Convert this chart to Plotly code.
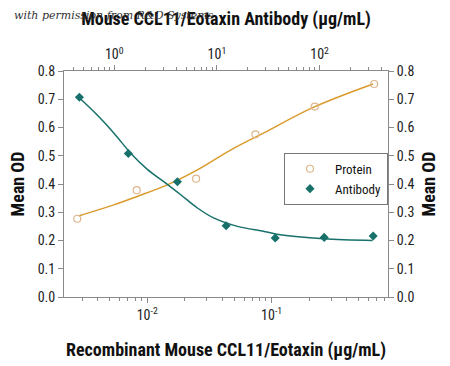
import plotly.graph_objects as go

# Protein (bottom axis, Recombinant Mouse CCL11/Eotaxin, µg/mL)
protein_conc = [0.00274, 0.00823, 0.0247, 0.0741, 0.222, 0.667]
protein_od = [0.277, 0.378, 0.419, 0.576, 0.674, 0.754]
# Protein fit curve
protein_fit_conc = [0.00281, 0.00538, 0.0083, 0.01449, 0.0253, 0.0471, 0.0873, 0.218, 0.653]
protein_fit_od = [0.287, 0.326, 0.356, 0.397, 0.450, 0.521, 0.582, 0.672, 0.754]

# Antibody (top axis, Mouse CCL11/Eotaxin Antibody, µg/mL)
antibody_conc = [0.457, 1.37, 4.12, 12.3, 37.0, 111.0, 333.0]
antibody_od = [0.707, 0.508, 0.408, 0.252, 0.209, 0.211, 0.216]
# Antibody fit curve
antibody_fit_conc = [0.453, 0.682, 0.993, 1.445, 2.099, 3.289, 4.446, 6.457, 9.397, 15.85, 28.84, 41.4, 109.4, 328.9]
antibody_fit_od = [0.706, 0.644, 0.580, 0.509, 0.452, 0.399, 0.362, 0.315, 0.279, 0.250, 0.232, 0.220, 0.206, 0.200]

y_ticks = [0.0, 0.1, 0.2, 0.3, 0.4, 0.5, 0.6, 0.7, 0.8]
bottom_ticks = [0.01, 0.1]
bottom_ticktext = ["10<sup>-2</sup>", "10<sup>-1</sup>"]
top_ticks = [1, 10, 100]
top_ticktext = ["10<sup>0</sup>", "10<sup>1</sup>", "10<sup>2</sup>"]

bottom_minor = [k * 10.0 ** e for e in (-3, -2, -1) for k in range(2, 10)]
top_minor = [k * 10.0 ** e for e in (-1, 0, 1, 2) for k in range(2, 10)]

TEAL = "#17706a"
ORANGE = "#d99b2b"
CIRCLE = "#dcb78e"
AXIS = "#8a8a8a"
FONT = "Liberation Sans Narrow, Roboto Condensed, Roboto, sans-serif"

fig = go.Figure()

fig.add_trace(go.Scatter(x=protein_fit_conc, y=protein_fit_od, mode="lines",
                         line=dict(color=ORANGE, width=1.5, shape="spline"),
                         showlegend=False, hoverinfo="skip", xaxis="x", yaxis="y"))
fig.add_trace(go.Scatter(x=antibody_fit_conc, y=antibody_fit_od, mode="lines",
                         line=dict(color=TEAL, width=1.5, shape="spline"),
                         showlegend=False, hoverinfo="skip", xaxis="x2", yaxis="y2"))
fig.add_trace(go.Scatter(x=protein_conc, y=protein_od, mode="markers", name="Protein",
                         marker=dict(symbol="circle-open", size=7, color=CIRCLE, line=dict(width=1.2)),
                         xaxis="x", yaxis="y"))
fig.add_trace(go.Scatter(x=antibody_conc, y=antibody_od, mode="markers", name="Antibody",
                         marker=dict(symbol="diamond", size=7, color=TEAL),
                         xaxis="x2", yaxis="y2"))

tickfont = dict(family=FONT, size=14, color="#222")
titlefont = dict(family=FONT, size=18, color="#111", weight="bold")

common = dict(showline=True, linecolor=AXIS, linewidth=1, showgrid=False, zeroline=False,
              tickfont=tickfont, ticks="outside", ticklen=5, tickcolor=AXIS, automargin=False)

fig.update_layout(
    width=450, height=366,
    margin=dict(l=64, r=62, t=71, b=69, autoexpand=False),
    paper_bgcolor="white", plot_bgcolor="white",
    showlegend=True,
    legend=dict(x=0.679, y=0.638, xanchor="left", yanchor="top",
                bordercolor="#777", borderwidth=1, bgcolor="white",
                font=dict(family=FONT, size=13, color="#111"),
                itemwidth=40, tracegroupgap=0),
    xaxis=dict(type="log", range=[-2.669, -0.065], tickvals=bottom_ticks, ticktext=bottom_ticktext,
               minor=dict(tickvals=bottom_minor, ticks="outside", ticklen=3, tickcolor=AXIS, showgrid=False),
               title=dict(text="Recombinant Mouse CCL11/Eotaxin (μg/mL)", font=titlefont, standoff=21),
               **common),
    xaxis2=dict(type="log", range=[-0.49, 2.667], overlaying="x", side="top", anchor="y",
                tickvals=top_ticks, ticktext=top_ticktext,
                minor=dict(tickvals=top_minor, ticks="outside", ticklen=3, tickcolor=AXIS, showgrid=False),
                title=dict(text="Mouse CCL11/Eotaxin Antibody (μg/mL)", font=titlefont, standoff=14),
                **common),
    yaxis=dict(range=[0, 0.8], tickvals=y_ticks, tickformat=".1f",
               title=dict(text="Mean OD", font=titlefont, standoff=8), **common),
    yaxis2=dict(range=[0, 0.8], tickvals=y_ticks, tickformat=".1f", overlaying="y", side="right",
                anchor="x", title=dict(text="Mean OD", font=titlefont, standoff=8), **common),
)

fig.add_annotation(text="with permission from R&D Systems", xref="paper", yref="paper",
                   x=-0.16, y=1.245, xanchor="left", yanchor="middle", showarrow=False,
                   font=dict(family="DejaVu Serif, serif", size=11, color="#333", style="italic"))

fig.write_html("out.html", config={"displayModeBar": False},
               post_script="document.body.style.margin='0px';")
